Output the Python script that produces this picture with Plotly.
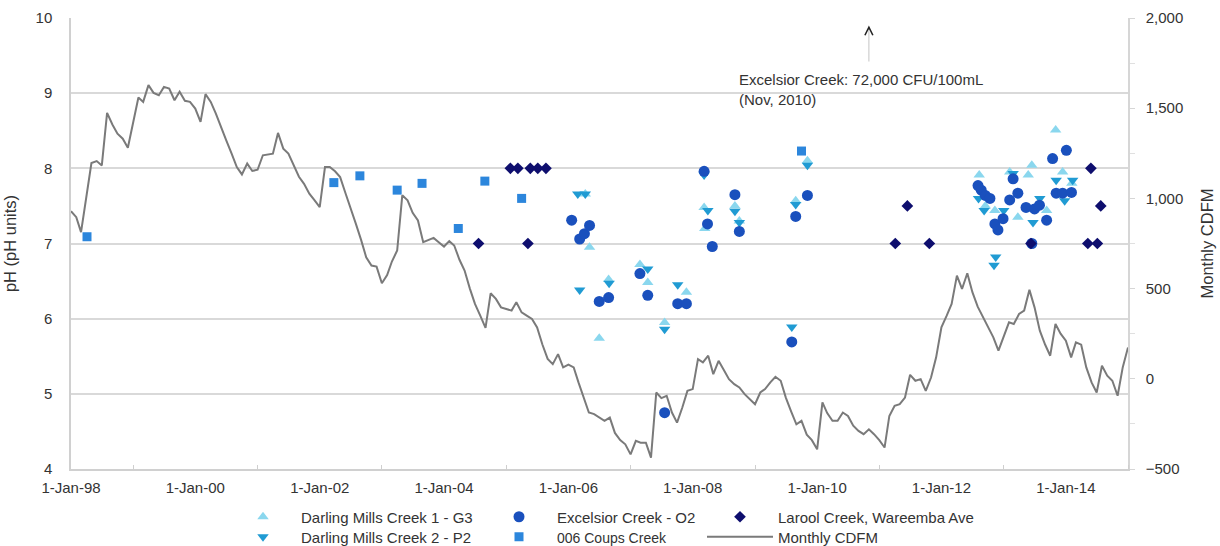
import pandas as pd
import plotly.graph_objects as go

# ---- Monthly CDFM (right axis), monthly from Jan 1998 ----
cdfm_start = "1998-01-01"
cdfm_values = [
    929, 896, 813, 1000, 1196, 1207, 1183, 1474, 1410, 1359, 1331, 1281,
    1420, 1559, 1535, 1628, 1585, 1572, 1618, 1609, 1544, 1591, 1541, 1535,
    1498, 1424, 1578, 1535, 1470, 1400, 1322, 1250, 1174, 1133, 1193, 1152,
    1159, 1239, 1245, 1248, 1363, 1276, 1248, 1183, 1120, 1081, 1026, 990,
    952, 1174, 1174, 1150, 1118, 1030, 940, 860, 770, 674, 628, 622,
    530, 575, 650, 711, 1017, 989, 920, 878, 757, 770, 781, 757,
    733, 763, 739, 660, 600, 500, 415, 350, 282, 474, 443, 396,
    385, 378, 424, 368, 350, 332, 285, 190, 110, 81, 137, 63,
    78, 63, -20, -110, -187, -196, -215, -233, -215, -300, -340, -363,
    -419, -344, -354, -354, -437, -76, -107, -94, -187, -243, -159, -67,
    -57, 109, 91, 128, 26, 100, 50, -2, -30, -48, -85, -110,
    -141, -76, -57, -20, 11, -11, -104, -180, -252, -233, -310, -340,
    -391, -131, -190, -233, -233, -187, -206, -260, -289, -307, -280, -307,
    -340, -381, -206, -150, -141, -104, 22, -11, -2, -67, 7, 119,
    285, 350, 415, 572, 498, 585, 480, 400, 341, 280, 230, 156,
    230, 313, 304, 359, 378, 493, 396, 267, 190, 128, 304, 250,
    211, 119, 202, 189, 63, -20, -76, 72, 17, -11, -94, 63,
    174,
]
cdfm_dates = pd.date_range(cdfm_start, periods=len(cdfm_values), freq="MS")

# ---- pH samples (left axis) ----
g3_dates = [
    "2006-04-10", "2006-05-05", "2006-07-01", "2006-08-25", "2007-02-25",
    "2007-04-12", "2007-07-20", "2007-11-25", "2008-03-08", "2008-03-12",
    "2008-09-05", "2008-10-01", "2009-08-28", "2009-11-05",
    "2012-08-10", "2012-09-15", "2012-11-10", "2013-02-05", "2013-03-25",
    "2013-05-25", "2013-06-15", "2013-09-10", "2013-11-02", "2013-12-13",
    "2014-02-05",
]
g3_ph = [
    7.66, 6.95, 5.74, 6.52, 6.72,
    6.48, 5.95, 6.35, 7.48, 7.20,
    7.50, 7.30, 7.57, 8.10,
    7.91, 7.50, 7.44, 7.95, 7.35,
    7.91, 8.04, 7.44, 8.51, 7.95,
    7.80,
]

p2_dates = [
    "2006-02-25", "2006-04-10", "2006-03-08", "2006-08-28", "2007-04-12",
    "2007-07-20", "2007-10-05", "2008-03-08", "2008-03-30", "2008-09-05",
    "2008-10-01", "2009-08-05", "2009-08-28", "2009-11-05",
    "2012-08-06", "2012-09-08", "2012-11-05", "2012-11-15", "2013-01-01",
    "2013-02-25", "2013-06-22", "2013-08-01", "2013-11-05", "2013-12-25",
    "2014-02-10",
]
p2_ph = [
    7.66, 7.66, 6.38, 6.47, 6.66,
    5.86, 6.45, 7.91, 7.44, 7.43,
    7.28, 5.89, 7.52, 8.04,
    7.60, 7.44, 6.71, 6.82, 7.44,
    7.93, 7.28, 7.60, 7.84, 7.57,
    7.84,
]

o2_dates = [
    "2006-01-20", "2006-03-08", "2006-04-05", "2006-05-05", "2006-07-01",
    "2006-08-25", "2007-02-25", "2007-04-12", "2007-07-20", "2007-10-05",
    "2007-11-25", "2008-03-08", "2008-03-28", "2008-04-25", "2008-09-05",
    "2008-10-01", "2009-08-05", "2009-08-28", "2009-11-05",
    "2012-08-03", "2012-08-22", "2012-09-15", "2012-10-12", "2012-11-10",
    "2012-11-28", "2012-12-28", "2013-02-05", "2013-02-25", "2013-03-25",
    "2013-05-12", "2013-06-15", "2013-07-01", "2013-07-30", "2013-09-10",
    "2013-10-15", "2013-11-05", "2013-12-13", "2014-01-04", "2014-02-03",
]
o2_ph = [
    7.31, 7.06, 7.13, 7.24, 6.23,
    6.28, 6.60, 6.31, 4.75, 6.20,
    6.20, 7.96, 7.26, 6.96, 7.65,
    7.16, 5.69, 7.36, 7.64,
    7.77, 7.71, 7.64, 7.60, 7.26,
    7.18, 7.33, 7.58, 7.86, 7.67,
    7.48, 7.00, 7.46, 7.51, 7.31,
    8.13, 7.67, 7.67, 8.24, 7.68,
]

coups_dates = [
    "1998-04-05", "2002-03-25", "2002-08-25", "2003-04-01", "2003-08-25",
    "2004-03-25", "2004-08-28", "2005-04-01", "2009-10-01",
]
coups_ph = [7.09, 7.81, 7.90, 7.71, 7.80, 7.20, 7.83, 7.60, 8.23]

larool_dates = [
    "2004-07-22", "2005-01-25", "2005-03-10", "2005-05-08", "2005-05-22",
    "2005-07-05", "2005-08-22", "2011-04-05", "2011-06-15", "2011-10-22",
    "2013-06-10", "2014-05-10", "2014-05-28", "2014-07-05", "2014-07-25",
]
larool_ph = [7.0, 8.0, 8.0, 7.0, 8.0, 8.0, 8.0, 7.0, 7.5, 7.0, 7.0, 7.0, 8.0, 7.0, 7.5]

FONT = "Liberation Sans, Arial, sans-serif"
TXT = "#333333"
GRID = "#d9d9d9"
W, H = 1220, 546
ML, MR, MT, MB = 71, 92, 18, 77
PW, PH = W - ML - MR, H - MT - MB

fig = go.Figure()

# CDFM line on the base (right-hand) axis so the sample markers sit above it
fig.add_trace(go.Scatter(
    x=cdfm_dates, y=cdfm_values, mode="lines", name="Monthly CDFM",
    line=dict(color="#7a7a7a", width=2), yaxis="y", legend="legend6",
))

# name, dates, pH, symbol, colour, size, legend id
series = [
    ("Darling Mills Creek 1 - G3", g3_dates, g3_ph, "triangle-up", "#8ad7ee", 10, "legend"),
    ("Darling Mills Creek 2 - P2", p2_dates, p2_ph, "triangle-down", "#209bd3", 10, "legend4"),
    ("Excelsior Creek - O2", o2_dates, o2_ph, "circle", "#1a50bd", 11, "legend2"),
    ("<span style='font-size:14px'>006 Coups Creek</span>", coups_dates, coups_ph, "square", "#2c86dc", 9, "legend5"),
    ("Larool Creek, Wareemba Ave", larool_dates, larool_ph, "diamond", "#0e0e6e", 9, "legend3"),
]
for name, xs, ys, sym, col, size, leg in series:
    fig.add_trace(go.Scatter(
        x=xs, y=ys, mode="markers", name=name, yaxis="y2", legend=leg,
        marker=dict(symbol=sym, color=col, size=size, line=dict(width=0)),
    ))


def legend_box(left_px, row_px, itemwidth):
    # one legend entry, positioned from figure pixels into paper fractions
    return dict(
        x=(left_px - ML) / PW, y=(MT + PH - row_px) / PH,
        xanchor="left", yanchor="middle",
        font=dict(family=FONT, size=15, color=TXT), bgcolor="rgba(0,0,0,0)",
        itemwidth=itemwidth,
    )


ROW1, ROW2 = 517, 537
fig.update_layout(
    width=W, height=H, autosize=False,
    margin=dict(l=ML, r=MR, t=MT, b=MB, autoexpand=False),
    paper_bgcolor="white", plot_bgcolor="white",
    font=dict(family=FONT, size=15, color=TXT),
    showlegend=True,
    legend=legend_box(225, ROW1, 66),
    legend4=legend_box(225, ROW2, 66),
    legend2=legend_box(481, ROW1, 66),
    legend5=legend_box(481, ROW2, 66),
    legend3=legend_box(702, ROW1, 66),
    legend6=legend_box(702, ROW2, 66),
    xaxis=dict(
        type="date", range=["1998-01-01", "2015-01-01"],
        tick0="1998-01-01", dtick="M24", tickformat="%-d-%b-%y",
        showgrid=False, showline=True, linecolor="#d0d0d0", linewidth=1.5,
        ticks="", ticklabelstandoff=4,
        tickfont=dict(family=FONT, size=15, color=TXT),
        minor=dict(ticks="inside", dtick="M12", ticklen=4, tickcolor="#cfcfcf", showgrid=False),
        zeroline=False,
    ),
    yaxis=dict(
        side="right", range=[-500, 2000], dtick=500, tickformat=",d",
        showgrid=False, showline=True, linecolor="#d6d6d6", linewidth=1.5,
        ticks="outside", ticklen=5, tickcolor="#d6d6d6", ticklabelstandoff=8,
        minor=dict(ticks="outside", dtick=250, ticklen=5, tickcolor="#e0e0e0"),
        tickfont=dict(family=FONT, size=15, color=TXT),
        title=dict(text="Monthly CDFM", font=dict(family=FONT, size=16.5, color=TXT), standoff=19),
        zeroline=False,
    ),
    yaxis2=dict(
        overlaying="y", side="left", range=[4, 10], dtick=1,
        showgrid=True, gridcolor=GRID, gridwidth=1.5,
        showline=True, linecolor="#d0d0d0", linewidth=1.5,
        ticks="", ticklabelstandoff=14,
        tickfont=dict(family=FONT, size=15, color=TXT),
        title=dict(text="pH (pH units)", font=dict(family=FONT, size=16.5, color=TXT), standoff=15),
        zeroline=False,
    ),
)

# Note for the off-scale Excelsior Creek result
fig.add_annotation(
    x=0.630, y=0.842, xref="paper", yref="paper", xanchor="left", yanchor="middle",
    align="left", showarrow=False,
    text="Excelsior Creek: 72,000 CFU/100mL<br>(Nov, 2010)",
    font=dict(family=FONT, size=15, color=TXT),
)
fig.add_annotation(
    x="2010-11-01", y=9.88, xref="x", yref="y2", text="", showarrow=True,
    arrowhead=0, arrowwidth=1, arrowcolor="#c4c4c4", ax=0, ay=36,
)
fig.add_annotation(
    x="2010-11-01", y=9.9, xref="x", yref="y2", text="", showarrow=True,
    arrowhead=5, arrowsize=1.3, arrowwidth=1.2, arrowcolor="#222222", ax=0, ay=5,
)

fig.write_html("out.html")
